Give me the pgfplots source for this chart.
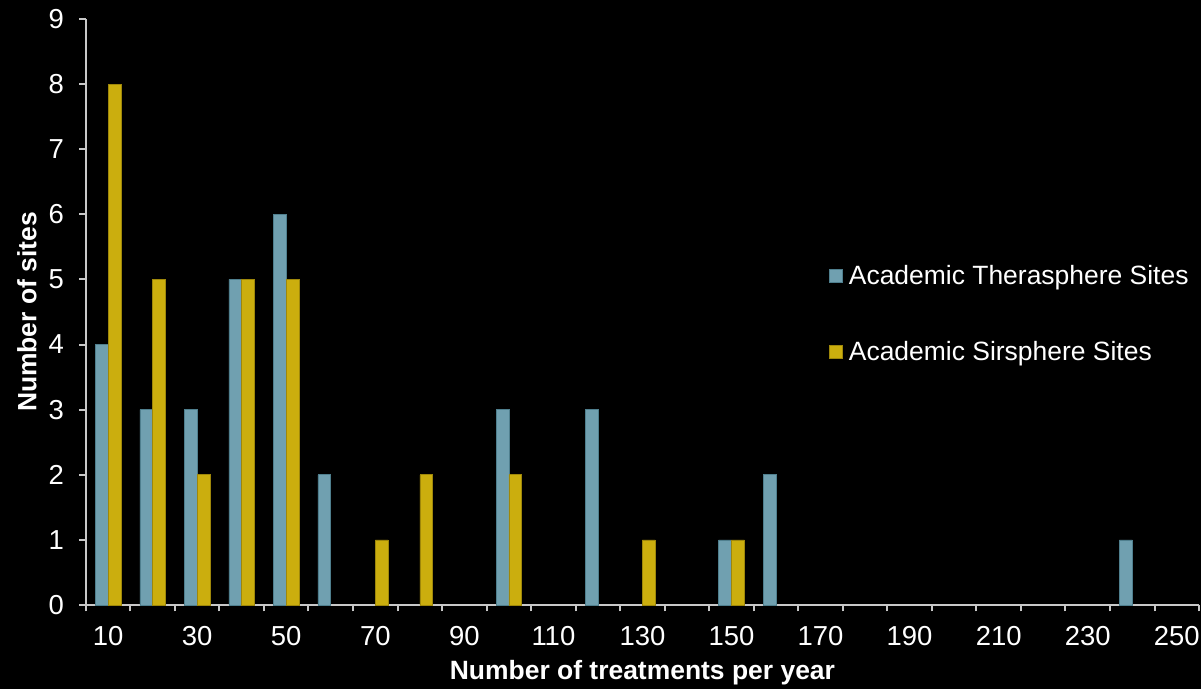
\documentclass[border=0pt]{standalone}
\usepackage{pgfplots}
\pgfplotsset{compat=1.18}
\usepackage{fontspec}
\setmainfont{Liberation Sans}
\definecolor{teal1}{HTML}{70A0B0}
\definecolor{teal1d}{HTML}{4F7F8E}
\definecolor{gold1}{HTML}{CBAE0E}
\definecolor{gold1d}{HTML}{9E870A}
\definecolor{axgray}{HTML}{C8C8C8}
\begin{document}
\begin{tikzpicture}
\fill[black] (-86pt,-84pt) rectangle (1117pt,606pt);
\begin{axis}[
  at={(0pt,0pt)}, anchor=south west,
  scale only axis, width=1115pt, height=587pt,
  xmin=-0.5, xmax=24.5, ymin=0, ymax=9,
  axis x line=bottom, axis y line=left,
  axis line style={-, draw=axgray, line width=2pt},
  tick style={draw=axgray, line width=2pt},
  tick align=outside,
  major tick length=6.5pt,
  xtick={-0.5,0.5,...,24.5},
  xticklabels={},
  extra x ticks={0,2,...,24},
  extra x tick labels={10,30,50,70,90,110,130,150,170,190,210,230,250},
  extra x tick style={major tick length=0pt},
  ytick={0,1,...,9},
  /pgf/number format/assume math mode=true,
  ticklabel style={text=white, font=\fontsize{27.5}{32}\selectfont},
  xticklabel style={yshift=-18pt},
  yticklabel style={xshift=-12pt},
  xlabel={Number of treatments per year},
  ylabel={Number of sites},
  label style={text=white, font=\fontsize{26.5}{30}\selectfont\bfseries},
  xlabel style={at={(axis description cs:0.5,-0.1158)}, anchor=center},
  ylabel style={at={(axis description cs:-0.053,0.5)}, anchor=center},
  ybar=0pt, bar width=12.8pt,
  legend style={at={(rel axis cs:0.665,0.497)}, anchor=west, draw=none, fill=none,
    text=white, font=\fontsize{26.5}{30}\selectfont, row sep=49pt,
    nodes={inner sep=3pt}},
  legend cell align=left,
  legend image code/.code={\fill[#1] (0pt,-6.5pt) rectangle (13pt,6.5pt);},
  /tikz/every odd column/.append style={},
]
\addplot[fill=teal1, draw=teal1d, line width=0.6pt] coordinates {
  (0,4) (1,3) (2,3) (3,5) (4,6) (5,2) (9,3) (11,3) (14,1) (15,2) (23,1)};
\addlegendentry{\hspace{3pt}Academic Therasphere Sites}
\addplot[fill=gold1, draw=gold1d, line width=0.6pt] coordinates {
  (0,8) (1,5) (2,2) (3,5) (4,5) (6,1) (7,2) (9,2) (12,1) (14,1)};
\addlegendentry{\hspace{3pt}Academic Sirsphere Sites}
\end{axis}
\end{tikzpicture}
\end{document}
